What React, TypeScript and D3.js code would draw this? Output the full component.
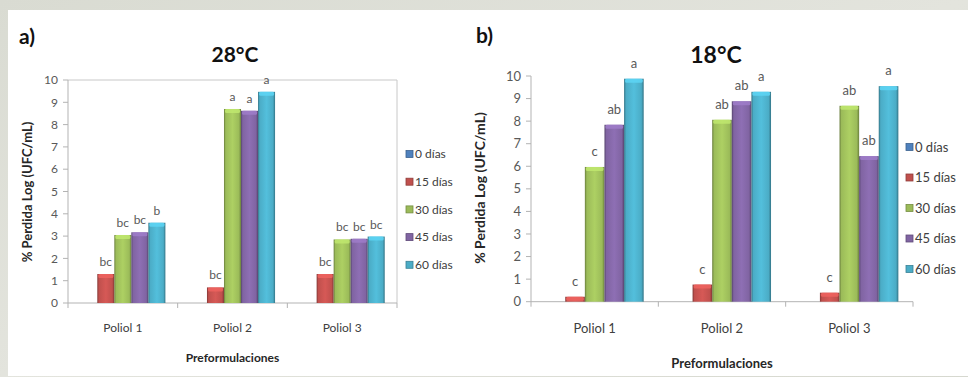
import React from "react";
import * as d3 from "d3";

// Categories, series and tick values
const categories = ["Poliol 1", "Poliol 2", "Poliol 3"];
const seriesNames = ["0 días", "15 días", "30 días", "45 días", "60 días"];
const seriesColors = ["#4F81BD", "#C0504D", "#9BBB59", "#8064A2", "#4BACC6"];
const yTicks = [0, 1, 2, 3, 4, 5, 6, 7, 8, 9, 10];

// 28°C: log loss per formulation, one array per storage time
const t28_0 = [0, 0, 0];
const t28_15 = [1.3, 0.7, 1.3];
const t28_30 = [3.05, 8.7, 2.85];
const t28_45 = [3.17, 8.62, 2.88];
const t28_60 = [3.6, 9.47, 2.98];
const letters28 = [
  ["", "", ""],
  ["bc", "bc", "bc"],
  ["bc", "a", "bc"],
  ["bc", "a", "bc"],
  ["b", "a", "bc"],
];

// 18°C
const t18_0 = [0, 0, 0];
const t18_15 = [0.22, 0.76, 0.4];
const t18_30 = [5.97, 8.06, 8.68];
const t18_45 = [7.84, 8.88, 6.45];
const t18_60 = [9.88, 9.3, 9.55];
const letters18 = [
  ["", "", ""],
  ["c", "c", "c"],
  ["c", "ab", "ab"],
  ["ab", "ab", "ab"],
  ["a", "a", "a"],
];

const FONT = "Lato, 'Open Sans', sans-serif";

type Layout = {
  id: string;
  x0: number;
  x1: number;
  yTop: number;
  yBottom: number;
  groupPad: number;
  frame: boolean;
  tickFont: number;
  catFont: number;
  labelFont: number;
  labelGap: number;
  legendX: number;
  legendY: number;
  legendStep: number;
  legendFont: number;
  yTitleX: number;
  yTitleY: number;
  yTitleFont: number;
  xTitleY: number;
  xTitleFont: number;
  catY: number;
  title: string;
  titleX: number;
  titleY: number;
  titleFont: number;
  tag: string;
  tagX: number;
  tagY: number;
};

function Panel({
  L,
  values,
  letters,
}: {
  L: Layout;
  values: number[][];
  letters: string[][];
}) {
  const x = d3.scaleBand<string>().domain(categories).range([L.x0, L.x1]).padding(0);
  const bw = x.bandwidth();
  const inner = d3
    .scaleBand<string>()
    .domain(seriesNames)
    .range([bw * L.groupPad, bw * (1 - L.groupPad)])
    .padding(0);
  const y = d3.scaleLinear().domain([0, 10]).range([L.yBottom, L.yTop]);
  const axisColor = "#b3b3b3";
  const bounds = [L.x0, ...categories.map((c) => (x(c) as number) + bw)];

  return (
    <g>
      <defs>
        {seriesColors.map((c, i) => {
          const dark = d3.color(c)!.darker(1.1).formatHex();
          const light = d3.color(c)!.brighter(0.3).formatHex();
          return (
            <linearGradient key={i} id={`${L.id}-g${i}`} x1="0" x2="1" y1="0" y2="0">
              <stop offset="0%" stopColor={dark} />
              <stop offset="10%" stopColor={c} />
              <stop offset="50%" stopColor={light} />
              <stop offset="88%" stopColor={c} />
              <stop offset="100%" stopColor={dark} />
            </linearGradient>
          );
        })}
      </defs>

      {/* plot frame / axes */}
      {L.frame && (
        <path
          d={`M${L.x0},${y(10)}H${L.x1}V${y(0)}`}
          fill="none"
          stroke="#c8c8c8"
          strokeWidth={1}
        />
      )}
      <line x1={L.x0} x2={L.x0} y1={y(10)} y2={y(0)} stroke={axisColor} />
      <line x1={L.x0} x2={L.x1} y1={y(0)} y2={y(0)} stroke={axisColor} />
      {yTicks.map((t) => (
        <g key={t}>
          <line x1={L.x0 - 5} x2={L.x0} y1={y(t)} y2={y(t)} stroke={axisColor} />
          <text
            x={L.x0 - 10}
            y={y(t)}
            dy="0.35em"
            textAnchor="end"
            fontSize={L.tickFont}
            fill="#595959"
            fontFamily={FONT}
          >
            {t}
          </text>
        </g>
      ))}
      {bounds.map((b, i) => (
        <line key={i} x1={b} x2={b} y1={y(0)} y2={y(0) + 5} stroke={axisColor} />
      ))}
      {categories.map((c) => (
        <text
          key={c}
          x={(x(c) as number) + bw / 2}
          y={L.catY}
          dy="0.35em"
          textAnchor="middle"
          fontSize={L.catFont}
          fill="#404040"
          fontFamily={FONT}
        >
          {c}
        </text>
      ))}

      {/* bars */}
      {seriesNames.map((s, si) =>
        categories.map((c, ci) => {
          const v = values[si][ci];
          if (v <= 0) return null;
          const bx = (x(c) as number) + (inner(s) as number);
          const w = inner.bandwidth();
          const top = y(v);
          const h = y(0) - top;
          const cap = d3.color(seriesColors[si])!.brighter(0.6).formatHex();
          return (
            <g key={s + c}>
              <rect x={bx} y={top} width={w} height={h} fill={`url(#${L.id}-g${si})`} />
              <rect
                x={bx + 1}
                y={top}
                width={w - 2}
                height={Math.min(4, h)}
                rx={1.5}
                fill={cap}
                opacity={0.85}
              />
            </g>
          );
        })
      )}

      {/* significance letters */}
      {seriesNames.map((s, si) =>
        categories.map((c, ci) => {
          const txt = letters[si][ci];
          if (!txt) return null;
          const bx = (x(c) as number) + (inner(s) as number) + inner.bandwidth() / 2;
          return (
            <text
              key={"l" + s + c}
              x={bx}
              y={y(values[si][ci]) - L.labelGap}
              textAnchor="middle"
              fontSize={L.labelFont}
              fill="#595959"
              fontFamily={FONT}
            >
              {txt}
            </text>
          );
        })
      )}

      {/* legend */}
      {seriesNames.map((s, i) => {
        const ly = L.legendY + i * L.legendStep;
        return (
          <g key={"lg" + s}>
            <rect
              x={L.legendX}
              y={ly - 3.5}
              width={7}
              height={7}
              fill={seriesColors[i]}
              stroke={d3.color(seriesColors[i])!.darker(0.8).formatHex()}
              strokeWidth={0.8}
            />
            <text
              x={L.legendX + 9}
              y={ly}
              dy="0.35em"
              fontSize={L.legendFont}
              fill="#404040"
              fontFamily={FONT}
            >
              {s}
            </text>
          </g>
        );
      })}

      {/* titles */}
      <text
        transform={`translate(${L.yTitleX},${L.yTitleY}) rotate(-90)`}
        textAnchor="middle"
        dy="0.35em"
        fontSize={L.yTitleFont}
        fontWeight="bold"
        fill="#262626"
        fontFamily={FONT}
      >
        % Perdida Log (UFC/mL)
      </text>
      <text
        x={(L.x0 + L.x1) / 2}
        y={L.xTitleY}
        dy="0.35em"
        textAnchor="middle"
        fontSize={L.xTitleFont}
        fontWeight="bold"
        fill="#262626"
        fontFamily={FONT}
      >
        Preformulaciones
      </text>
      <text
        x={L.titleX}
        y={L.titleY}
        textAnchor="middle"
        fontSize={L.titleFont}
        fontWeight="bold"
        fill="#111"
        fontFamily={FONT}
      >
        {L.title}
      </text>
      <text x={L.tagX} y={L.tagY} fontSize={21} fontWeight="bold" fill="#111" fontFamily={FONT}>
        {L.tag}
      </text>
    </g>
  );
}

const leftLayout: Layout = {
  id: "p28",
  x0: 68,
  x1: 397,
  yTop: 80,
  yBottom: 303,
  groupPad: 0.112,
  frame: true,
  tickFont: 12,
  catFont: 12,
  labelFont: 12,
  labelGap: 8,
  legendX: 406,
  legendY: 154,
  legendStep: 27.7,
  legendFont: 12,
  yTitleX: 27,
  yTitleY: 192,
  yTitleFont: 13,
  xTitleY: 358,
  xTitleFont: 12,
  catY: 328,
  title: "28°C",
  titleX: 235,
  titleY: 62,
  titleFont: 21,
  tag: "a)",
  tagX: 19,
  tagY: 44,
};

const rightLayout: Layout = {
  id: "p18",
  x0: 531,
  x1: 913,
  yTop: 76,
  yBottom: 301.7,
  groupPad: 0.115,
  frame: false,
  tickFont: 13,
  catFont: 13,
  labelFont: 13,
  labelGap: 11,
  legendX: 906,
  legendY: 147,
  legendStep: 30.5,
  legendFont: 13,
  yTitleX: 480,
  yTitleY: 188,
  yTitleFont: 14,
  xTitleY: 363,
  xTitleFont: 13,
  catY: 328,
  title: "18°C",
  titleX: 716,
  titleY: 63,
  titleFont: 23,
  tag: "b)",
  tagX: 476,
  tagY: 43,
};

export default function App() {
  return (
    <svg
      width={968}
      height={377}
      style={{ position: "absolute", left: 0, top: 0, display: "block" }}
    >
      <defs>
        <linearGradient id="bgTex" x1="0" x2="1" y1="0" y2="1">
          <stop offset="0%" stopColor="#d9dbd2" />
          <stop offset="50%" stopColor="#e3e4dd" />
          <stop offset="100%" stopColor="#d6d8cf" />
        </linearGradient>
      </defs>
      <rect x={0} y={0} width={968} height={377} fill="url(#bgTex)" />
      <rect x={8} y={10} width={960} height={366} fill="#ffffff" />
      <Panel L={leftLayout} values={[t28_0, t28_15, t28_30, t28_45, t28_60]} letters={letters28} />
      <Panel L={rightLayout} values={[t18_0, t18_15, t18_30, t18_45, t18_60]} letters={letters18} />
    </svg>
  );
}
